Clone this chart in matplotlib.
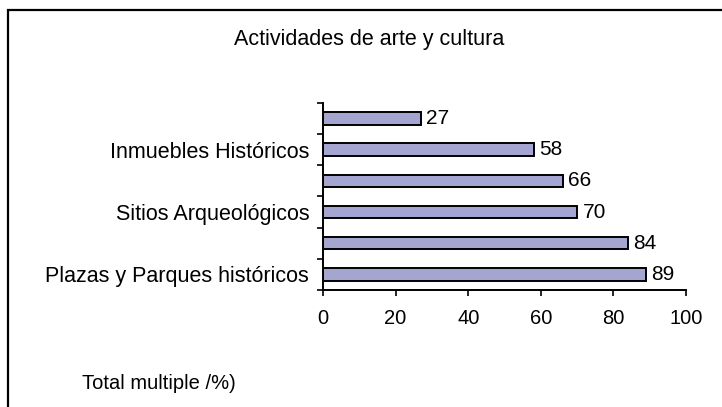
import matplotlib
matplotlib.use("Agg")
import matplotlib.pyplot as plt
from matplotlib.patches import Rectangle

# Data: art and culture activities (multiple response, %)
tick_labels = ['Plazas y Parques históricos', '', 'Sitios Arqueológicos', '',
               'Inmuebles Históricos', '']
values = [89, 84, 70, 66, 58, 27]
x_ticks = [0, 20, 40, 60, 80, 100]

plt.rcParams['font.family'] = ['Liberation Sans', 'DejaVu Sans']

fig = plt.figure(figsize=(7.22, 4.07), dpi=100)
ax = fig.add_axes([0.4474, 0.2875, 0.5027, 0.4595])

pos = list(range(len(values)))
bars = ax.barh(pos, values, height=0.4, color='#A5A5D2', edgecolor='black', linewidth=1.4)

for y, v in zip(pos, values):
    ax.text(v + 1.5, y, str(v), va='center', ha='left', fontsize=15)

ax.set_xlim(0, 100)
ax.set_ylim(-0.5, len(values) - 0.5)
ax.set_xticks(x_ticks)
ax.tick_params(axis='x', direction='out', length=4, width=1.2, labelsize=14.5, pad=10)

# labels centred on bars, tick marks on category boundaries
ax.set_yticks(pos)
ax.set_yticklabels(tick_labels)
ax.set_yticks([p - 0.5 for p in pos] + [len(values) - 0.5], minor=True)
ax.tick_params(axis='y', which='major', length=0, labelsize=15.5, pad=10)
ax.tick_params(axis='y', which='minor', direction='out', length=4, width=1.2)

for side in ['top', 'right']:
    ax.spines[side].set_visible(False)
for side in ['left', 'bottom']:
    ax.spines[side].set_linewidth(1.4)

fig.text(0.511, 0.904, 'Actividades de arte y cultura', ha='center', va='center', fontsize=15.5)
fig.text(0.114, 0.057, 'Total multiple /%)', ha='left', va='center', fontsize=14.5)

# outer chart frame, running off the right and bottom edges
fig.patches.append(Rectangle((8 / 722, -0.1), 1.2, 1 - 10 / 407 + 0.1,
                             transform=fig.transFigure, fill=False,
                             edgecolor='black', linewidth=1.6))

fig.savefig('out.png', dpi=100)
